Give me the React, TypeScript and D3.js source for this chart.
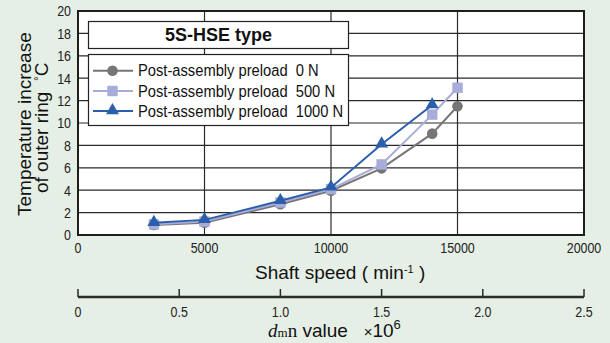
import React from "react";
import * as d3 from "d3";

const speeds = [3000, 5000, 8000, 10000, 12000, 14000, 15000];
const preload0 = [0.9, 1.1, 2.75, 3.95, 5.95, 9.05, 11.5];
const preload500 = [0.95, 1.2, 2.9, 4.1, 6.3, 10.75, 13.15];
const preload1000 = [1.1, 1.35, 3.05, 4.25, 8.1, 11.6];
const seriesNames = [
  "Post-assembly preload\u00a0\u00a00 N",
  "Post-assembly preload\u00a0\u00a0500 N",
  "Post-assembly preload\u00a0\u00a01000 N",
];
const xTicks = [0, 5000, 10000, 15000, 20000];
const yTicks = [0, 2, 4, 6, 8, 10, 12, 14, 16, 18, 20];
const dmnTicks = [0, 0.5, 1.0, 1.5, 2.0, 2.5];
const legendTitle = "5S-HSE type";

const W = 610;
const H = 343;
const BG = "#e6efe6";
const GRID = "#2a2a2a";
const SANS = "'Liberation Sans', Arial, sans-serif";
const SERIF = "'Liberation Serif', 'Times New Roman', serif";
const NX = 0.83; // horizontal condense factor for tick labels

const colors = ["#767676", "#a7acd8", "#2c5fab"];

export default function App() {
  const x = d3.scaleLinear().domain([0, 20000]).range([78, 584]);
  const y = d3.scaleLinear().domain([0, 20]).range([235, 11]);
  const xd = d3.scaleLinear().domain([0, 2.5]).range([78, 584]);

  const series = [preload0, preload500, preload1000].map((vals) =>
    vals.map((v, i) => [speeds[i], v] as [number, number])
  );
  const line = d3
    .line<[number, number]>()
    .x((d) => x(d[0]))
    .y((d) => y(d[1]));

  const marker = (k: number, cx: number, cy: number, key: string) => {
    if (k === 0) return <circle key={key} cx={cx} cy={cy} r={5.3} fill={colors[0]} />;
    if (k === 1)
      return <rect key={key} x={cx - 5.2} y={cy - 5.2} width={10.4} height={10.4} fill={colors[1]} />;
    const tri = d3.symbol().type(d3.symbolTriangle).size(72)();
    return (
      <path key={key} d={tri || ""} transform={`translate(${cx},${cy - 0.5})`} fill={colors[2]} />
    );
  };

  const legendRows = [70.7, 91, 111];

  const tickText = (key: string, tx: number, ty: number, anchor: string, label: string, dy?: string) => (
    <text
      key={key}
      transform={`translate(${tx},${ty}) scale(${NX},1)`}
      dy={dy}
      textAnchor={anchor}
      fontFamily={SANS}
      fontSize={15}
      fill="#222"
    >
      {label}
    </text>
  );

  return (
    <svg
      width={W}
      height={H}
      style={{ position: "absolute", left: 0, top: 0, display: "block" }}
    >
      <rect x={0} y={0} width={W} height={H} fill={BG} />
      {/* plot area */}
      <rect x={78} y={11} width={506} height={224} fill="#ffffff" />
      {yTicks.slice(1, -1).map((t) => (
        <line key={"gy" + t} x1={78} x2={584} y1={y(t)} y2={y(t)} stroke={GRID} strokeWidth={1.2} />
      ))}
      {xTicks.slice(1, -1).map((t) => (
        <line key={"gx" + t} x1={x(t)} x2={x(t)} y1={11} y2={235} stroke={GRID} strokeWidth={1.2} />
      ))}
      <rect x={78} y={11} width={506} height={224} fill="none" stroke="#1e1e1e" strokeWidth={2} />

      {/* y tick labels */}
      {yTicks.map((t) => tickText("yl" + t, 71, y(t), "end", String(t), "0.36em"))}
      {/* x tick labels */}
      {xTicks.map((t) => tickText("xl" + t, x(t), 253, "middle", String(t)))}

      {/* series */}
      {series.map((s, k) => (
        <g key={"s" + k}>
          <path d={line(s) || ""} fill="none" stroke={colors[k]} strokeWidth={2} />
          {s.map((p, i) => marker(k, x(p[0]), y(p[1]), `m${k}-${i}`))}
        </g>
      ))}

      {/* legend title box */}
      <rect x={88.5} y={21.5} width={260} height={27} fill="#fff" stroke="#222" strokeWidth={1.2} />
      <text
        x={218.5}
        y={41}
        textAnchor="middle"
        fontFamily={SANS}
        fontWeight="bold"
        fontSize={18}
        fill="#111"
      >
        {legendTitle}
      </text>
      {/* legend box */}
      <rect x={88.5} y={54.5} width={260} height={71} fill="#fff" stroke="#222" strokeWidth={1.2} />
      {seriesNames.map((name, k) => (
        <g key={"lg" + k}>
          <line x1={93} x2={133} y1={legendRows[k]} y2={legendRows[k]} stroke={colors[k]} strokeWidth={2} />
          {marker(k, 112.5, legendRows[k], "lm" + k)}
          <text
            transform={`translate(138,${legendRows[k]}) scale(0.92,1)`}
            dy="0.36em"
            fontFamily={SANS}
            fontSize={16}
            fill="#111"
          >
            {name}
          </text>
        </g>
      ))}

      {/* y axis title */}
      <text
        transform="translate(31,216) rotate(-90)"
        fontFamily={SANS}
        fontSize={19}
        fill="#111"
      >
        Temperature increase
      </text>
      <text
        transform="translate(48,193) rotate(-90)"
        fontFamily={SANS}
        fontSize={19}
        fill="#111"
      >
        {"of outer ring\u00a0\u00a0"}
        <tspan dy={-5} fontSize={12}>
          {"\u00b0"}
        </tspan>
        <tspan dy={5}>C</tspan>
      </text>

      {/* x axis title */}
      <text x={255} y={279} fontFamily={SANS} fontSize={19} fill="#111">
        {"Shaft speed ( min"}
        <tspan dy={-6} fontSize={11}>
          -1
        </tspan>
        <tspan dy={6}>{"\u00a0)"}</tspan>
      </text>

      {/* dmn axis */}
      <line x1={78} x2={584} y1={297} y2={297} stroke="#2a2a2a" strokeWidth={2.5} />
      {dmnTicks.map((t) => (
        <g key={"dt" + t}>
          <line x1={xd(t)} x2={xd(t)} y1={289} y2={297} stroke="#2a2a2a" strokeWidth={1.5} />
          {tickText("dl" + t, xd(t), 317, "middle", t === 0 ? "0" : t.toFixed(1))}
        </g>
      ))}
      <text x={268} y={337} fontSize={19} fill="#111">
        <tspan fontFamily={SERIF} fontStyle="italic">
          d
        </tspan>
        <tspan fontFamily={SERIF} fontSize={13}>
          m
        </tspan>
        <tspan fontFamily={SERIF}>n</tspan>
        <tspan fontFamily={SANS}>{" value\u00a0\u00a0 "}</tspan>
        <tspan fontFamily={SANS} fontSize={15}>{"\u00d7"}</tspan>
        <tspan fontFamily={SANS}>10</tspan>
        <tspan fontFamily={SANS} fontSize={13} dy={-8}>
          6
        </tspan>
      </text>
    </svg>
  );
}
